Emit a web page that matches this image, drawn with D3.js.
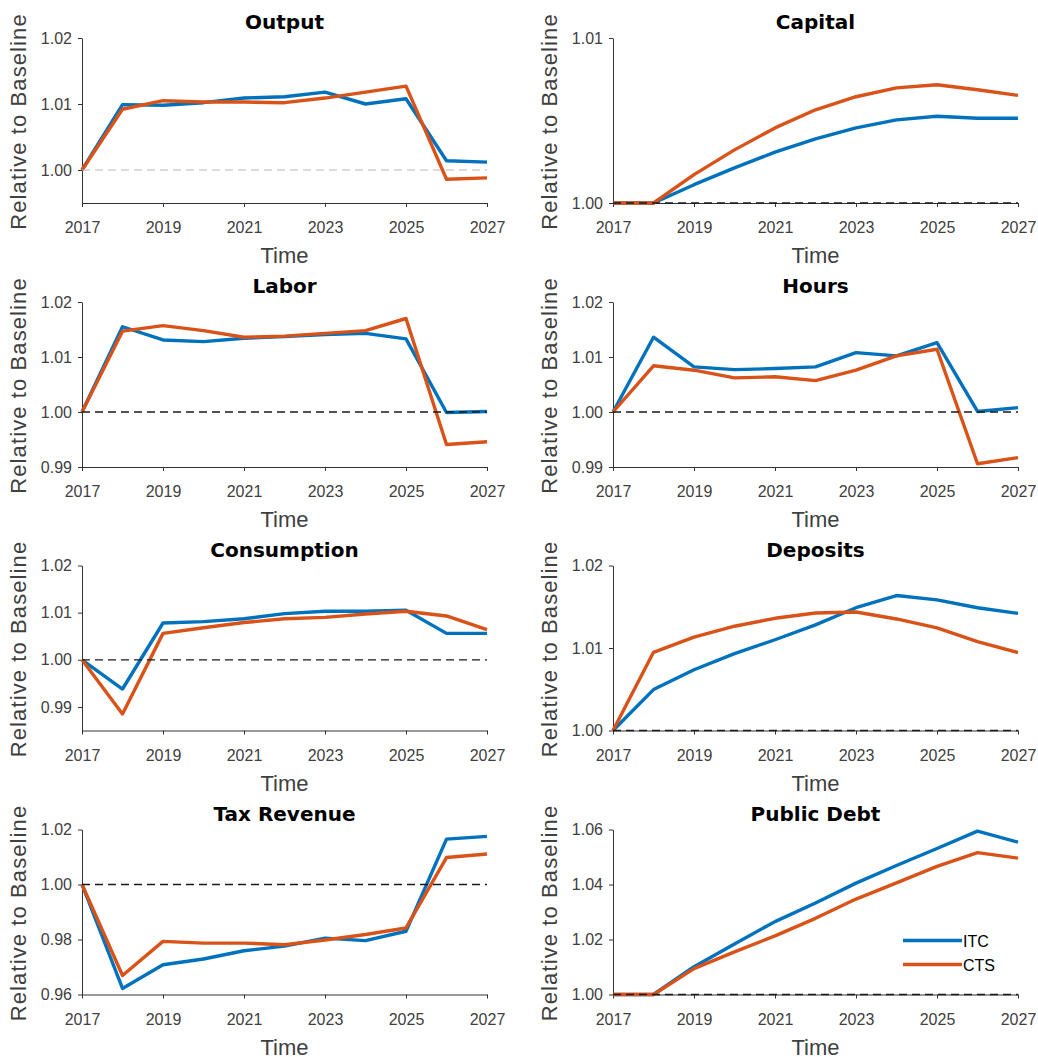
<!DOCTYPE html>
<html>
<head>
<meta charset="utf-8">
<script src="https://cdn.jsdelivr.net/npm/d3@7"></script>
<style>
  html, body { margin: 0; padding: 0; background: #fff; }
  svg { display: block; }
</style>
</head>
<body>
<svg id="chart" width="1038" height="1057"></svg>
<script>
// Simulated paths, 2017-2027, relative to baseline
const years = [2017, 2018, 2019, 2020, 2021, 2022, 2023, 2024, 2025, 2026, 2027];
const xTickYears = [2017, 2019, 2021, 2023, 2025, 2027];
const seriesNames = ["ITC", "CTS"];

const outputITC  = [1.0000, 1.0099, 1.0098, 1.0102, 1.0109, 1.0111, 1.0118, 1.0100, 1.0108, 1.0014, 1.0012];
const outputCTS  = [1.0000, 1.0092, 1.0105, 1.0103, 1.0103, 1.0102, 1.0109, 1.0118, 1.0127, 0.9986, 0.9988];

const capitalITC = [1.0000, 1.0000, 1.00111, 1.00213, 1.00308, 1.00389, 1.00455, 1.00504, 1.00526, 1.00514, 1.00514];
const capitalCTS = [1.0000, 1.0000, 1.00172, 1.00322, 1.00455, 1.00565, 1.00644, 1.00698, 1.00717, 1.00686, 1.00652];

const laborITC   = [1.0000, 1.0155, 1.0131, 1.0128, 1.0134, 1.0137, 1.0141, 1.0143, 1.0133, 0.9999, 1.0001];
const laborCTS   = [1.0000, 1.0147, 1.0157, 1.0148, 1.0136, 1.0138, 1.0143, 1.0148, 1.0170, 0.9941, 0.9946];

const hoursITC   = [1.0000, 1.0136, 1.0082, 1.0077, 1.0079, 1.0082, 1.0108, 1.0102, 1.0126, 1.0001, 1.0008];
const hoursCTS   = [1.0000, 1.0084, 1.0076, 1.0062, 1.0064, 1.0057, 1.0076, 1.0102, 1.0114, 0.9906, 0.9917];

const consITC    = [1.0000, 0.9938, 1.0078, 1.0081, 1.0087, 1.0098, 1.0103, 1.0103, 1.0105, 1.0056, 1.0056];
const consCTS    = [1.0000, 0.9885, 1.0056, 1.0068, 1.0079, 1.0087, 1.0090, 1.0097, 1.0103, 1.0093, 1.0064];

const depITC     = [1.0000, 1.00496, 1.00736, 1.00932, 1.0110, 1.0128, 1.01488, 1.01636, 1.01584, 1.01488, 1.0142];
const depCTS     = [1.0000, 1.00948, 1.01132, 1.01264, 1.0136, 1.01424, 1.01436, 1.01352, 1.01244, 1.01076, 1.00944];

const taxITC     = [1.0000, 0.9622, 0.9708, 0.9729, 0.9759, 0.9776, 0.9805, 0.9796, 0.9830, 1.0165, 1.0175];
const taxCTS     = [1.0000, 0.9669, 0.9793, 0.9787, 0.9787, 0.9781, 0.9798, 0.9818, 0.9842, 1.0098, 1.0111];

const debtITC    = [1.0000, 1.0000, 1.0101, 1.0184, 1.0265, 1.0333, 1.0405, 1.0469, 1.0531, 1.0594, 1.0554];
const debtCTS    = [1.0000, 1.0000, 1.0094, 1.0155, 1.0213, 1.0277, 1.0347, 1.0406, 1.0466, 1.0516, 1.0496];

// Panel definitions: title, y domain, y tick values, series
const panels = [
  { title: "Output",       domain: [0.995, 1.02], ticks: [1.00, 1.01, 1.02],             fmt: ".2f", itc: outputITC,  cts: outputCTS,  refColor: "#b8b8b8", refWidth: 1 },
  { title: "Capital",      domain: [1.00, 1.01],  ticks: [1.00, 1.01],                   fmt: ".2f", itc: capitalITC, cts: capitalCTS },
  { title: "Labor",        domain: [0.99, 1.02],  ticks: [0.99, 1.00, 1.01, 1.02],       fmt: ".2f", itc: laborITC,   cts: laborCTS },
  { title: "Hours",        domain: [0.99, 1.02],  ticks: [0.99, 1.00, 1.01, 1.02],       fmt: ".2f", itc: hoursITC,   cts: hoursCTS },
  { title: "Consumption",  domain: [0.985, 1.02], ticks: [0.99, 1.00, 1.01, 1.02],       fmt: ".2f", itc: consITC,    cts: consCTS },
  { title: "Deposits",     domain: [1.00, 1.02],  ticks: [1.00, 1.01, 1.02],             fmt: ".2f", itc: depITC,     cts: depCTS },
  { title: "Tax Revenue",  domain: [0.96, 1.02],  ticks: [0.96, 0.98, 1.00, 1.02],       fmt: ".2f", itc: taxITC,     cts: taxCTS },
  { title: "Public Debt",  domain: [1.00, 1.06],  ticks: [1.00, 1.02, 1.04, 1.06],       fmt: ".2f", itc: debtITC,    cts: debtCTS, legend: true }
];

// Grid layout
const colLeft = [82, 613];
const rowTop = [38, 302, 565.5, 829.5];
const plotW = 405;
const plotH = 165;

const colors = { ITC: "#0072BD", CTS: "#D95319" };
const textGray = "#404040";
const axisGray = "#333333";
const sansFont = "'Liberation Sans', Arial, sans-serif";

const svg = d3.select("#chart");

panels.forEach((p, i) => {
  const left = colLeft[i % 2];
  const top = rowTop[Math.floor(i / 2)];

  const x = d3.scaleLinear().domain([2017, 2027]).range([0, plotW]);
  const y = d3.scaleLinear().domain(p.domain).range([plotH, 0]);

  const g = svg.append("g").attr("transform", `translate(${left},${top})`);

  // Axes
  const xAxis = d3.axisBottom(x).tickValues(xTickYears).tickFormat(d3.format("d"))
    .tickSizeInner(4).tickSizeOuter(0).tickPadding(15);
  const yAxis = d3.axisLeft(y).tickValues(p.ticks).tickFormat(d3.format(p.fmt))
    .tickSizeInner(4).tickSizeOuter(0).tickPadding(6);

  const gx = g.append("g").attr("transform", `translate(0,${plotH})`).call(xAxis);
  const gy = g.append("g").call(yAxis);
  [gx, gy].forEach(a => {
    a.select(".domain").attr("stroke", axisGray).attr("stroke-width", 1);
    a.selectAll(".tick line").attr("stroke", axisGray).attr("stroke-width", 1);
    a.selectAll(".tick text").attr("fill", textGray)
      .style("font-family", sansFont).style("font-size", "16px");
  });

  // Series lines
  const line = d3.line().x((d, k) => x(years[k])).y(d => y(d));
  [["ITC", p.itc], ["CTS", p.cts]].forEach(([name, vals]) => {
    g.append("path")
      .datum(vals)
      .attr("fill", "none")
      .attr("stroke", colors[name])
      .attr("stroke-width", 3.4)
      .attr("stroke-linejoin", "round")
      .attr("d", line);
  });

  // Baseline reference at 1.00
  g.append("line")
    .attr("x1", 0).attr("x2", plotW)
    .attr("y1", y(1.0)).attr("y2", y(1.0))
    .attr("stroke", p.refColor || "#1a1a1a")
    .attr("stroke-width", p.refWidth || 1.3)
    .attr("stroke-dasharray", "8,5");

  // Title
  g.append("text")
    .attr("x", plotW / 2).attr("y", -9)
    .attr("text-anchor", "middle")
    .style("font-family", "'DejaVu Sans', Verdana, sans-serif")
    .style("font-weight", "bold").style("font-size", "20px")
    .attr("fill", "#000")
    .text(p.title);

  // X label
  g.append("text")
    .attr("x", plotW / 2).attr("y", plotH + 60)
    .attr("text-anchor", "middle")
    .style("font-family", sansFont)
    .style("font-size", "22px")
    .attr("fill", textGray)
    .text("Time");

  // Y label
  g.append("text")
    .attr("transform", `translate(${-56},${plotH / 2 + 1}) rotate(-90)`)
    .attr("text-anchor", "middle")
    .style("font-family", sansFont)
    .style("font-size", "22px")
    .style("letter-spacing", "1.1px")
    .attr("fill", textGray)
    .text("Relative to Baseline");

  // Legend
  if (p.legend) {
    const lg = g.append("g").attr("transform", `translate(${290},${111})`);
    seriesNames.forEach((name, k) => {
      const row = lg.append("g").attr("transform", `translate(0,${k * 24})`);
      row.append("line").attr("x1", 0).attr("x2", 59).attr("y1", 0).attr("y2", 0)
        .attr("stroke", colors[name]).attr("stroke-width", 3.4);
      row.append("text").attr("x", 60).attr("y", 6)
        .style("font-family", sansFont)
        .style("font-size", "16px").attr("fill", "#000")
        .text(name);
    });
  }
});
</script>
</body>
</html>
